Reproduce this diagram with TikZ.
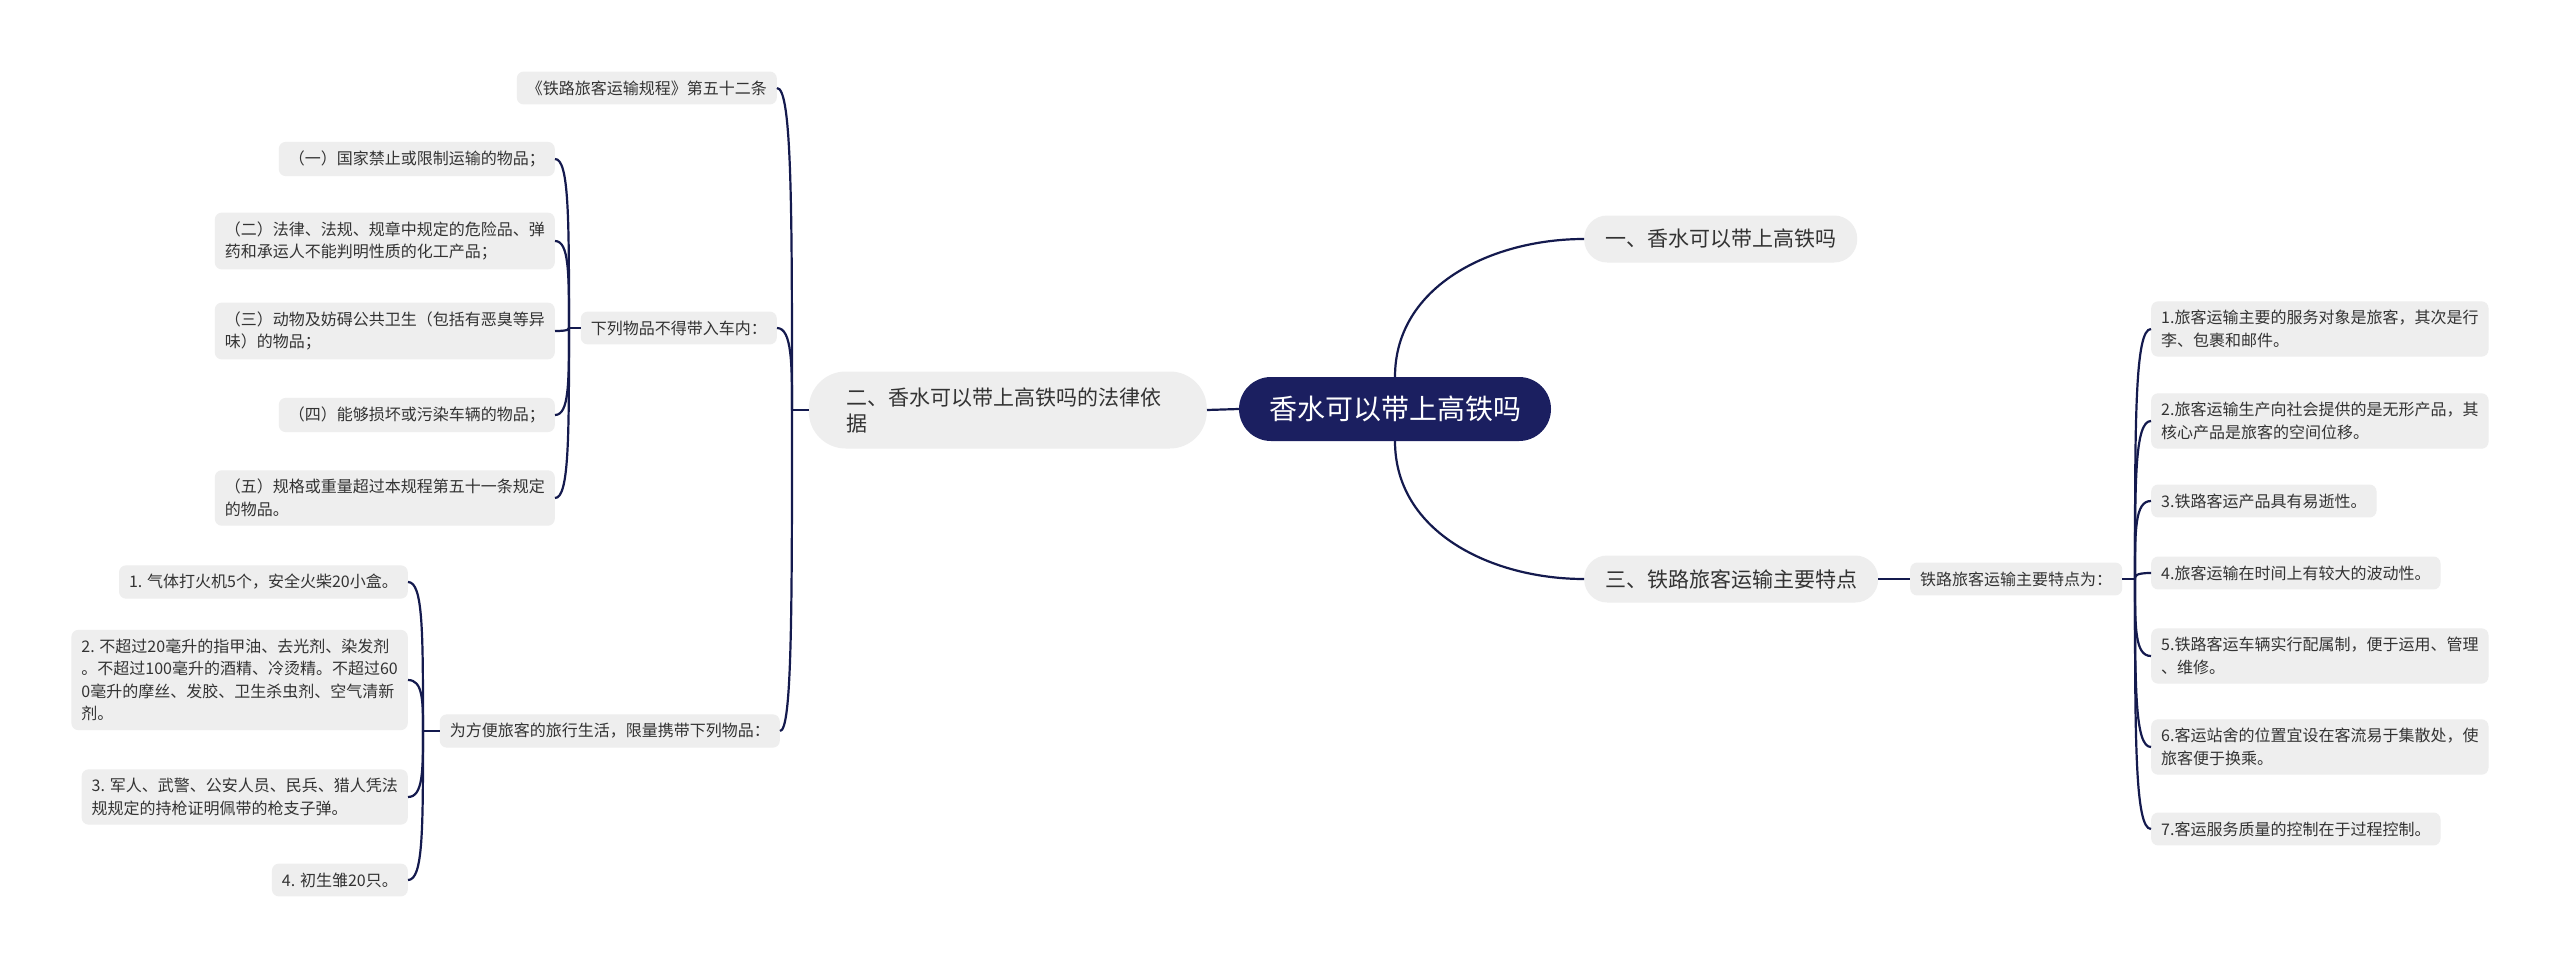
\documentclass[tikz,border=0pt]{standalone}
\usepackage{fontspec}
\setmainfont{Noto Sans CJK SC}
\definecolor{navy}{HTML}{1B1F60}
\definecolor{linec}{HTML}{141A4E}
\definecolor{boxg}{HTML}{EEEEEE}
\definecolor{txt}{HTML}{333333}
\begin{document}
\begin{tikzpicture}[x=1pt,y=-1pt,
  conn/.style={draw=linec, line width=2.2pt},
  leaf/.style={fill=boxg, rounded corners=7pt, inner xsep=10pt, inner ysep=9pt, align=left, text=txt, font=\fontsize{16}{22.5}\selectfont},
  topic/.style={fill=boxg, rounded corners=23pt, minimum height=47pt, inner xsep=21pt, text=txt, font=\fontsize{21}{26}\selectfont},
  root/.style={fill=navy, rounded corners=32pt, minimum height=64pt, inner xsep=30pt, text=white, font=\fontsize{28}{32}\selectfont}
]
\fill[white] (0,0) rectangle (2560,966);
\useasboundingbox (0,0) rectangle (2560,966);

% root and main topics
\node[root] (root) at (1395,409) {香水可以带上高铁吗};
\node[topic, anchor=west] (t1) at (1584,239) {一、香水可以带上高铁吗};
\node[topic, anchor=west] (t3) at (1584,579) {三、铁路旅客运输主要特点};
\node[topic, anchor=east, align=left, text width=322pt, rounded corners=37pt, minimum height=77pt, inner xsep=38pt] (t2) at (1207,410) {二、香水可以带上高铁吗的法律依\\据};

% left subtopics
\node[leaf, anchor=east] (law) at (777,88) {《铁路旅客运输规程》第五十二条};
\node[leaf, anchor=east] (ban) at (777,328) {下列物品不得带入车内：};
\node[leaf, anchor=east] (allow) at (780,731) {为方便旅客的旅行生活，限量携带下列物品：};

\node[leaf, anchor=east] (b1) at (555,159) {（一）国家禁止或限制运输的物品；};
\node[leaf, anchor=east] (b2) at (555,241) {（二）法律、法规、规章中规定的危险品、弹\\药和承运人不能判明性质的化工产品；};
\node[leaf, anchor=east] (b3) at (555,331) {（三）动物及妨碍公共卫生（包括有恶臭等异\\味）的物品；};
\node[leaf, anchor=east] (b4) at (555,415) {（四）能够损坏或污染车辆的物品；};
\node[leaf, anchor=east] (b5) at (555,498) {（五）规格或重量超过本规程第五十一条规定\\的物品。};

\node[leaf, anchor=east] (a1) at (408,582) {1. 气体打火机5个，安全火柴20小盒。};
\node[leaf, anchor=east] (a2) at (408,680) {2. 不超过20毫升的指甲油、去光剂、染发剂\\。不超过100毫升的酒精、冷烫精。不超过60\\0毫升的摩丝、发胶、卫生杀虫剂、空气清新\\剂。};
\node[leaf, anchor=east] (a3) at (408,797) {3. 军人、武警、公安人员、民兵、猎人凭法\\规规定的持枪证明佩带的枪支子弹。};
\node[leaf, anchor=east] (a4) at (408,880) {4. 初生雏20只。};

% right subtopics
\node[leaf, anchor=west] (spec) at (1910,579) {铁路旅客运输主要特点为：};
\node[leaf, anchor=west] (r1) at (2151,329) {1.旅客运输主要的服务对象是旅客，其次是行\\李、包裹和邮件。};
\node[leaf, anchor=west] (r2) at (2151,421) {2.旅客运输生产向社会提供的是无形产品，其\\核心产品是旅客的空间位移。};
\node[leaf, anchor=west] (r3) at (2151,501) {3.铁路客运产品具有易逝性。};
\node[leaf, anchor=west] (r4) at (2151,573) {4.旅客运输在时间上有较大的波动性。};
\node[leaf, anchor=west] (r5) at (2151,656) {5.铁路客运车辆实行配属制，便于运用、管理\\、维修。};
\node[leaf, anchor=west] (r6) at (2151,747) {6.客运站舍的位置宜设在客流易于集散处，使\\旅客便于换乘。};
\node[leaf, anchor=west] (r7) at (2151,829) {7.客运服务质量的控制在于过程控制。};

% junction points
\coordinate (tA) at (792,410);
\coordinate (tB) at (569,328);
\coordinate (tD) at (423,731);
\coordinate (tC) at (2135,579);

% root connectors
\draw[conn] (root.west) -- (t2.east);
\draw[conn] (root.north) to[out=90,in=180] (t1.west);
\draw[conn] (root.south) to[out=-90,in=180] (t3.west);
\draw[conn] (t3.east) -- (spec.west);

% left main trunk
\draw[conn] (t2.west) -- (tA);
\draw[conn] (tA) to[out=90,in=0,out distance=200pt,in distance=15pt] (law.east);
\draw[conn] (tA) to[out=90,in=0,out distance=45pt,in distance=15pt] (ban.east);
\draw[conn] (tA) to[out=-90,in=0,out distance=200pt,in distance=12pt] (allow.east);

% ban bracket
\draw[conn] (ban.west) -- (tB);
\draw[conn] (tB) to[out=90,in=0,out distance=110pt,in distance=14pt] (b1.east);
\draw[conn] (tB) to[out=90,in=0,out distance=55pt,in distance=14pt] (b2.east);
\draw[conn] (tB) to[out=-90,in=0,out distance=1pt,in distance=14pt] (b3.east);
\draw[conn] (tB) to[out=-90,in=0,out distance=55pt,in distance=14pt] (b4.east);
\draw[conn] (tB) to[out=-90,in=0,out distance=110pt,in distance=14pt] (b5.east);

% allow bracket
\draw[conn] (allow.west) -- (tD);
\draw[conn] (tD) to[out=90,in=0,out distance=100pt,in distance=15pt] (a1.east);
\draw[conn] (tD) to[out=90,in=0,out distance=30pt,in distance=15pt] (a2.east);
\draw[conn] (tD) to[out=-90,in=0,out distance=40pt,in distance=15pt] (a3.east);
\draw[conn] (tD) to[out=-90,in=0,out distance=100pt,in distance=15pt] (a4.east);

% right bracket
\draw[conn] (spec.east) -- (tC);
\draw[conn] (tC) to[out=90,in=180,out distance=160pt,in distance=16pt] (r1.west);
\draw[conn] (tC) to[out=90,in=180,out distance=100pt,in distance=16pt] (r2.west);
\draw[conn] (tC) to[out=90,in=180,out distance=50pt,in distance=16pt] (r3.west);
\draw[conn] (tC) to[out=90,in=180,out distance=3pt,in distance=16pt] (r4.west);
\draw[conn] (tC) to[out=-90,in=180,out distance=50pt,in distance=16pt] (r5.west);
\draw[conn] (tC) to[out=-90,in=180,out distance=110pt,in distance=16pt] (r6.west);
\draw[conn] (tC) to[out=-90,in=180,out distance=160pt,in distance=16pt] (r7.west);
\end{tikzpicture}
\end{document}
